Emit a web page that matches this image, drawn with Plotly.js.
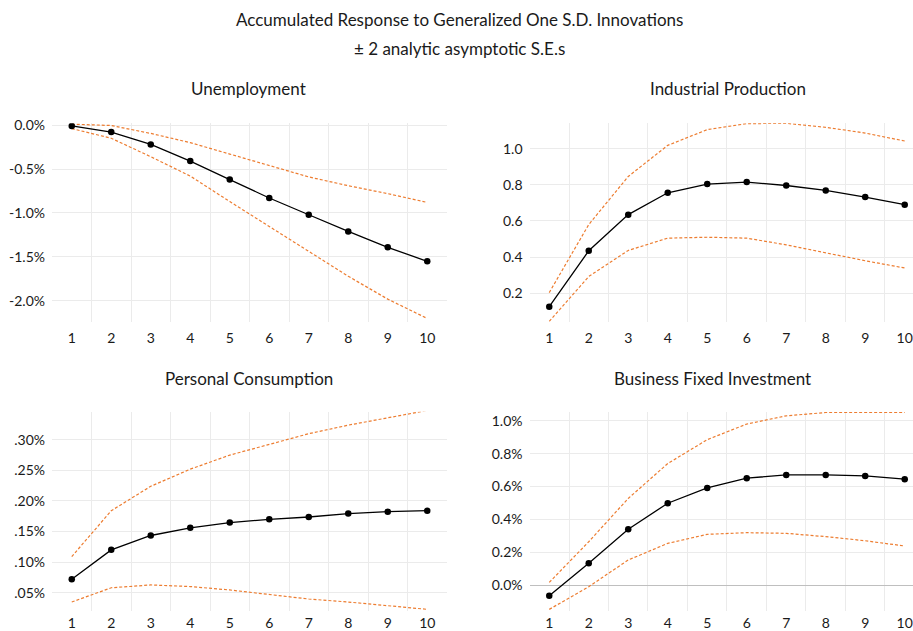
<!DOCTYPE html>
<html><head><meta charset="utf-8">
<script src="https://cdn.plot.ly/plotly-3.0.1.min.js"></script>
<style>html,body{margin:0;padding:0;background:#fff}#chart{width:913px;height:631px}</style>
</head><body><div id="chart"></div>
<script>
const periods = [1,2,3,4,5,6,7,8,9,10];
const periodLabels = ["1","2","3","4","5","6","7","8","9","10"];

const unempResp  = [-0.01,-0.08,-0.22,-0.41,-0.62,-0.83,-1.02,-1.21,-1.39,-1.55];
const unempUpper = [0.01,-0.005,-0.095,-0.20,-0.33,-0.46,-0.59,-0.69,-0.78,-0.88];
const unempLower = [-0.04,-0.15,-0.36,-0.58,-0.87,-1.15,-1.44,-1.72,-1.98,-2.20];

const ipResp  = [0.126,0.435,0.635,0.756,0.804,0.815,0.796,0.769,0.732,0.69];
const ipUpper = [0.204,0.58,0.846,1.018,1.105,1.138,1.14,1.118,1.086,1.042];
const ipLower = [0.045,0.293,0.437,0.505,0.51,0.505,0.468,0.422,0.38,0.34];

const pcResp  = [0.0718,0.120,0.1435,0.156,0.1647,0.170,0.1738,0.1793,0.1825,0.1841];
const pcUpper = [0.109,0.184,0.224,0.252,0.275,0.293,0.310,0.324,0.336,0.348];
const pcLower = [0.0347,0.058,0.0626,0.060,0.0544,0.0473,0.0396,0.0347,0.0282,0.0227];

const bfiResp  = [-0.063,0.135,0.341,0.499,0.592,0.651,0.671,0.671,0.665,0.645];
const bfiUpper = [0.018,0.265,0.528,0.74,0.885,0.98,1.03,1.05,1.05,1.05];
const bfiLower = [-0.146,-0.008,0.154,0.255,0.31,0.32,0.316,0.296,0.271,0.239];

const unempTicks = [0,-0.5,-1.0,-1.5,-2.0];
const unempTickText = ["0.0%","-0.5%","-1.0%","-1.5%","-2.0%"];
const ipTicks = [0.2,0.4,0.6,0.8,1.0];
const ipTickText = ["0.2","0.4","0.6","0.8","1.0"];
const pcTicks = [0.05,0.10,0.15,0.20,0.25,0.30];
const pcTickText = [".05%",".10%",".15%",".20%",".25%",".30%"];
const bfiTicks = [0.0,0.2,0.4,0.6,0.8,1.0];
const bfiTickText = ["0.0%","0.2%","0.4%","0.6%","0.8%","1.0%"];

const panelTitles = ["Unemployment","Industrial Production","Personal Consumption","Business Fixed Investment"];
const titleLines = ["Accumulated Response to Generalized One S.D. Innovations","± 2 analytic asymptotic S.E.s"];

const FONT = "Lato, 'Open Sans', sans-serif";
const TXT = "#1a1a1a";
const orange = "#ED7D31";
const gridC = "#ebebeb";

const panels = [
  {resp: unempResp, up: unempUpper, lo: unempLower, tv: unempTicks, tt: unempTickText, xr:[0.5,10.5], yr:[-2.24,0.02]},
  {resp: ipResp, up: ipUpper, lo: ipLower, tv: ipTicks, tt: ipTickText, xr:[0.5,10.21], yr:[0.043,1.14]},
  {resp: pcResp, up: pcUpper, lo: pcLower, tv: pcTicks, tt: pcTickText, xr:[0.5,10.5], yr:[0.0205,0.346]},
  {resp: bfiResp, up: bfiUpper, lo: bfiLower, tv: bfiTicks, tt: bfiTickText, xr:[0.5,10.21], yr:[-0.154,1.055]}
];

const W = 913, H = 631;
const xDom = [[52/W, 447/W],[529.5/W, 1],[52/W, 447/W],[529.5/W, 1]];
const yDom = [[1-322/H, 1-123.3/H],[1-321.7/H, 1-123.3/H],[1-610.7/H, 1-411.7/H],[1-610.7/H, 1-411.7/H]];
const standoffs = [6, 6, 2, 2];
const boundaries = [1.5,2.5,3.5,4.5,5.5,6.5,7.5,8.5,9.5];

const traces = [];
const layout = {
  width: W, height: H,
  margin: {l:0, r:0, t:0, b:0},
  paper_bgcolor: "#fff", plot_bgcolor: "#fff",
  showlegend: false,
  font: {family: FONT, color: TXT, size: 14},
  annotations: []
};

panels.forEach((p, i) => {
  const n = i + 1;
  const xa = n === 1 ? "x" : "x" + n;
  const ya = n === 1 ? "y" : "y" + n;
  const xkey = n === 1 ? "xaxis" : "xaxis" + n;
  const ykey = n === 1 ? "yaxis" : "yaxis" + n;
  traces.push({x: periods, y: p.up, xaxis: xa, yaxis: ya, mode: "lines", line: {color: orange, width: 1.2, dash: "3px,2px"}, hoverinfo: "skip"});
  traces.push({x: periods, y: p.lo, xaxis: xa, yaxis: ya, mode: "lines", line: {color: orange, width: 1.2, dash: "3px,2px"}, hoverinfo: "skip"});
  traces.push({x: periods, y: p.resp, xaxis: xa, yaxis: ya, mode: "lines+markers", line: {color: "#000", width: 1.3}, marker: {color: "#000", size: 6.5}});
  layout[xkey] = {
    domain: xDom[i], range: p.xr, anchor: ya,
    tickmode: "array", tickvals: periods, ticktext: periodLabels,
    showgrid: false, zeroline: false, showline: false, ticks: "",
    ticklabelstandoff: standoffs[i],
    tickfont: {family: FONT, size: 14, color: TXT},
    minor: {tickmode: "array", tickvals: boundaries, showgrid: true, gridcolor: gridC, gridwidth: 1, ticks: ""},
    fixedrange: true
  };
  layout[ykey] = {
    domain: yDom[i], range: p.yr, anchor: xa,
    tickmode: "array", tickvals: p.tv, ticktext: p.tt,
    showgrid: true, gridcolor: gridC, gridwidth: 1,
    zeroline: i === 3, zerolinecolor: "#bfbfbf", zerolinewidth: 1,
    showline: false, ticks: "", ticklabelstandoff: 6,
    tickfont: {family: FONT, size: 14, color: TXT},
    fixedrange: true
  };
});

const titlePos = [[249, 88],[728, 88],[249, 378],[712, 378]];
panelTitles.forEach((t, i) => {
  layout.annotations.push({
    text: t, xref: "paper", yref: "paper",
    x: titlePos[i][0] / W, y: 1 - titlePos[i][1] / H,
    xanchor: "center", yanchor: "middle", showarrow: false,
    font: {family: FONT, size: 17, color: TXT}
  });
});
const titleY = [20, 48];
titleLines.forEach((t, i) => {
  layout.annotations.push({
    text: t, xref: "paper", yref: "paper",
    x: 459 / W, y: 1 - titleY[i] / H,
    xanchor: "center", yanchor: "middle", showarrow: false,
    font: {family: FONT, size: 17, color: TXT}
  });
});

Plotly.newPlot("chart", traces, layout, {staticPlot: true, displayModeBar: false});
</script></body></html>
